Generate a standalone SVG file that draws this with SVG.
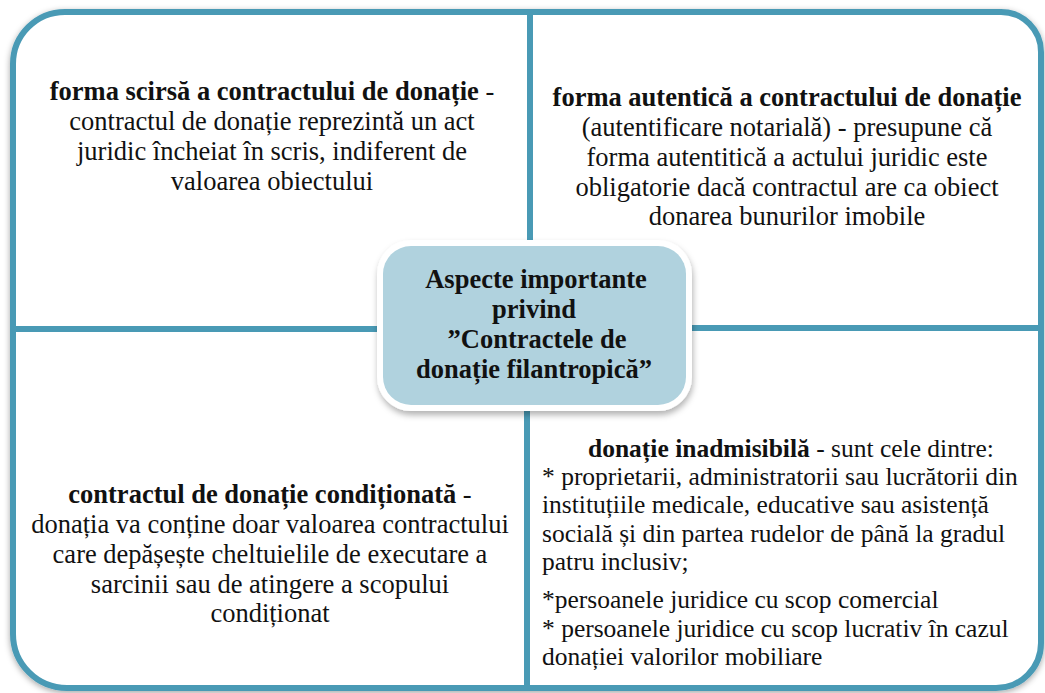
<svg xmlns="http://www.w3.org/2000/svg" width="1045" height="693" viewBox="0 0 1045 693" font-family="'Liberation Serif', 'Times New Roman', serif">
<style>
.quad{fill:#ffffff;stroke:#4A9AB5;stroke-width:6;stroke-linejoin:miter}
text{font-family:'Liberation Serif','Times New Roman',serif;font-size:26.5px;fill:#111}
.c{text-anchor:middle}
.b{font-weight:bold}
.s text{font-size:25.5px}
.hub{fill:#B0D2DE}
</style>
<defs>
<filter id="sh" x="-5%" y="-5%" width="110%" height="110%">
<feDropShadow dx="0" dy="2" stdDeviation="3" flood-color="#000" flood-opacity="0.35"/>
</filter>
<filter id="sh2" x="-10%" y="-15%" width="120%" height="135%">
<feDropShadow dx="1" dy="4" stdDeviation="3" flood-color="#000" flood-opacity="0.3"/>
</filter>
</defs>
<rect width="1045" height="693" fill="#ffffff"/>
<g filter="url(#sh)">
<g id="node-tl">
<path class="quad" d="M13,329 V64 A52,52 0 0 1 65,12 H530 V329 Z"/>
</g>
<g id="node-tr">
<path class="quad" d="M530,12 H1001 A40,40 0 0 1 1041,52 V328 H530 Z"/>
</g>
<g id="node-bl">
<path class="quad" d="M13,329 H527 V688 H67 A54,54 0 0 1 13,634 Z"/>
</g>
<g id="node-br">
<path class="quad" d="M527,328 H1041 V643 A45,45 0 0 1 996,688 H527 Z"/>
</g>
</g>
<g id="connectors"/>
<g id="text-tl" class="c">
<text x="272" y="100"><tspan class="b">forma scirsă a contractului de donație</tspan> -</text>
<text x="272" y="130">contractul de donație reprezintă un act</text>
<text x="272" y="160">juridic încheiat în scris, indiferent de</text>
<text x="272" y="190">valoarea obiectului</text>
</g>
<g id="text-tr" class="c">
<text x="787" y="106" class="b">forma autentică a contractului de donație</text>
<text x="787" y="136">(autentificare notarială) - presupune că</text>
<text x="787" y="166">forma autentitică a actului juridic este</text>
<text x="787" y="196">obligatorie dacă contractul are ca obiect</text>
<text x="787" y="225">donarea bunurilor imobile</text>
</g>
<g id="text-bl" class="c">
<text x="270" y="503"><tspan class="b">contractul de donație condiționată</tspan> -</text>
<text x="270" y="533">donația va conține doar valoarea contractului</text>
<text x="270" y="563">care depășește cheltuielile de executare a</text>
<text x="270" y="593">sarcinii sau de atingere a scopului</text>
<text x="270" y="622">condiționat</text>
</g>
<g id="text-br" class="s">
<text x="588" y="457"><tspan class="b">donație inadmisibilă</tspan> - sunt cele dintre:</text>
<text x="542" y="485">* proprietarii, administratorii sau lucrătorii din</text>
<text x="542" y="513">instituțiile medicale, educative sau asistență</text>
<text x="542" y="542">socială și din partea rudelor de până la gradul</text>
<text x="542" y="570">patru inclusiv;</text>
<text x="542" y="608">*persoanele juridice cu scop comercial</text>
<text x="542" y="637">* persoanele juridice cu scop lucrativ în cazul</text>
<text x="542" y="665">donației valorilor mobiliare</text>
</g>
<g id="node-center">
<rect x="377" y="240" width="315" height="171" rx="34" fill="#ffffff" filter="url(#sh2)"/>
<rect class="hub" x="383" y="246" width="303" height="159" rx="28"/>
<g class="c b">
<text x="536" y="288">Aspecte importante</text>
<text x="534" y="318">privind</text>
<text x="537" y="348">”Contractele de</text>
<text x="534" y="378">donație filantropică”</text>
</g>
</g>
</svg>
